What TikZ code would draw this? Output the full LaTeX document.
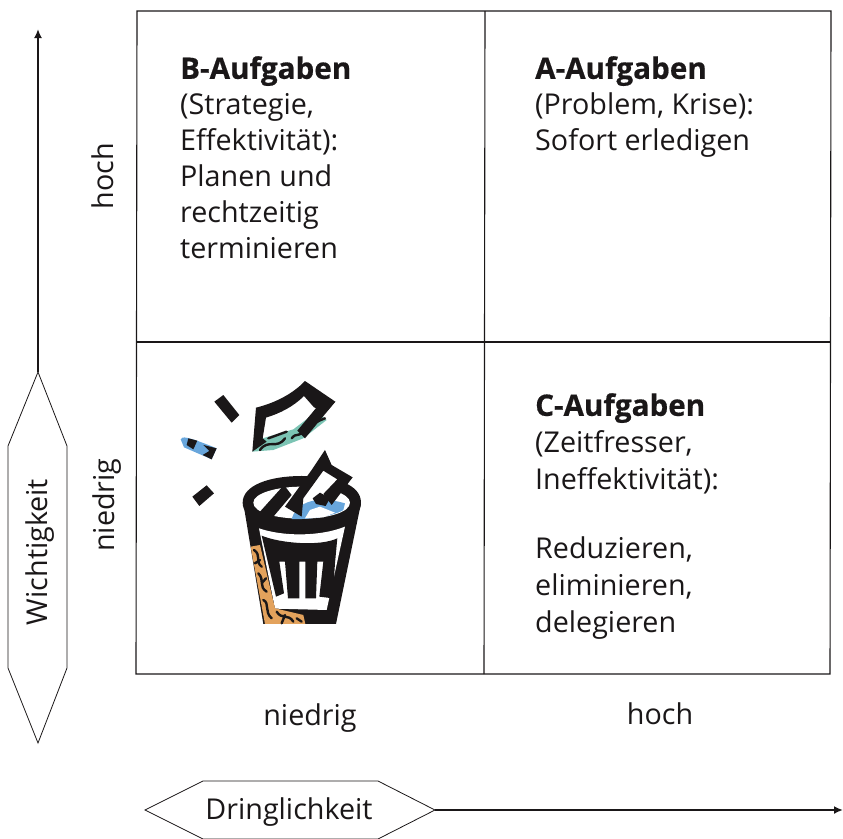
\documentclass[tikz,border=0pt]{standalone}
\usepackage{fontspec}
\setmainfont{Open Sans}
\newfontfamily\headfont{Open Sans}[BoldFeatures={FakeBold=0.5}]
\newcommand{\headtxt}[1]{{\headfont\bfseries\fontsize{29.6}{36}\selectfont #1}}
\definecolor{ink}{HTML}{1A1718}
\definecolor{teal}{HTML}{7CC4B4}
\definecolor{sky}{HTML}{68A6DC}
\definecolor{ochre}{HTML}{E3A25C}
\usetikzlibrary{arrows.meta}
\tikzset{
  px/.style={x=1pt,y=-1pt},
  cell/.style={draw=ink,line width=1.1pt},
  body/.style={font=\fontsize{28.7}{36}\selectfont,text=ink,align=left,anchor=north west,inner sep=0pt},
  bodywide/.style={font=\fontsize{28.7}{37}\selectfont,text=ink,align=left,anchor=north west,inner sep=0pt},
  lab/.style={font=\fontsize{28.7}{36}\selectfont,text=ink,inner sep=0pt},
  tag/.style={draw=ink,line width=.8pt,fill=white,line join=miter},
  axis/.style={draw=ink,line width=1.8pt,-{Latex[length=9pt,width=8pt]}},
  squig/.style={draw=ink,line width=2.4pt,line cap=round}
}
\begin{document}
\begin{tikzpicture}[px]
\useasboundingbox (0,0) rectangle (843,838);
% matrix
\coordinate (tl) at (137,11); \coordinate (tr) at (831,11);
\coordinate (bl) at (136,674); \coordinate (br) at (830,674);
\coordinate (tm) at (485,11); \coordinate (bm) at (484,674);
\coordinate (ml) at (136,342); \coordinate (mr) at (831,342);
\draw[cell] (tl) -- (tr) -- (br) -- (bl) -- cycle;
\draw[cell] (tm) -- (bm);
\draw[cell] (ml) -- (mr);
% cell texts
\node[body] (tb) at (180,56) {\headtxt{B-Aufgaben}\\(Strategie,\\Effektivität):\\Planen und\\rechtzeitig\\terminieren};
\node[body] (ta) at (535,56) {\headtxt{A-Aufgaben}\\(Problem, Krise):\\Sofort erledigen};
\node[bodywide] (tc) at (535,393) {\headtxt{C-Aufgaben}\\(Zeitfresser,\\Ineffektivität):\\[32pt]Reduzieren,\\eliminieren,\\delegieren};
% axis labels
\node[lab,rotate=90] (lh) at (103,176) {hoch};
\node[lab,rotate=90] (ln) at (107,505) {niedrig};
\node[lab] (xn) at (310,718) {niedrig};
\node[lab] (xh) at (660,714) {hoch};
% axis tags
\draw[tag] (38,372) -- (67,446) -- (67,668) -- (38,743) -- (8,668) -- (8,446) -- cycle;
\coordinate (vb) at (38,372); \coordinate (ve) at (38,29);
\draw[axis] (vb) -- (ve);
\node[lab,rotate=90] (vw) at (40,552) {Wichtigkeit};
\draw[tag] (145,810) -- (203,781) -- (378,781) -- (435,810) -- (378,839) -- (203,839) -- cycle;
\coordinate (hb) at (435,810); \coordinate (he) at (843,810);
\draw[axis] (hb) -- (he);
\node[lab] (hd) at (289,812) {Dringlichkeit};
% waste bin (drawn in 3x zoom coordinates)
\begin{scope}[shift={(160,370)},x=.3333pt,y=-.3333pt]
 % scraps
 \fill[ink] (163,95) -- (190,75) -- (238,135) -- (215,158) -- cycle;
 \fill[ink] (97,380) -- (140,346) -- (162,370) -- (118,408) -- cycle;
 \fill[sky] (62,208) .. controls (65,198) and (80,198) .. (170,235) -- (155,268) -- (72,232) -- cycle;
 \fill[ink] (85,205) -- (112,212) -- (100,238) -- (80,225) -- cycle;
 \fill[ink] (130,225) -- (170,235) -- (155,268) -- (128,255) -- (148,243) -- cycle;
 % big scrap
 \fill[teal] (277,245) -- (308,205) -- (400,178) -- (470,125) -- (500,150) -- (430,205) -- (340,240) -- cycle;
 \fill[ink] (277,245) -- (288,113) .. controls (340,100) and (395,75) .. (435,33) -- (526,95) -- (500,125) -- (462,112) -- (432,78) .. controls (400,110) and (360,130) .. (318,143) -- (308,205) -- (320,215) -- cycle;
 \fill[ink] (470,112) -- (526,95) -- (435,205) -- (412,182) -- cycle;
 \draw[squig] (300,240) .. controls (325,205) and (350,240) .. (375,205) (325,205) -- (380,185) (395,205) .. controls (410,185) and (420,205) .. (430,180) (450,150) .. controls (470,165) and (475,150) .. (495,145);
 % bin body
 \fill[ink] (250,400) -- (310,762) -- (528,762) -- (603,400) -- cycle;
 \fill[white] (297,475) .. controls (370,500) and (480,500) .. (555,470) -- (500,720) -- (345,716) -- cycle;
 % ribs
 \fill[ink] (305,497) .. controls (360,520) and (480,530) .. (532,505) -- (525,580) -- (518,685) -- (478,680) -- (490,575) -- (472,575) -- (468,685) -- (436,685) -- (436,575) -- (418,575) -- (418,685) -- (384,685) -- (375,575) -- (358,575) -- (372,670) -- (348,680) -- cycle;
 % orange wall
 \fill[ochre] (272,530) -- (300,525) -- (345,715) -- (430,735) -- (436,762) -- (315,762) -- cycle;
 \draw[squig] (282,540) .. controls (305,555) and (285,575) .. (305,590) (300,570) -- (285,580) (295,610) .. controls (315,630) and (295,650) .. (320,665) (318,625) -- (305,640) (310,690) .. controls (330,700) and (312,725) .. (335,745) (350,725) .. controls (365,750) and (385,730) .. (400,755) (375,735) -- (365,760) (410,745) -- (425,755);
 % rim
 \fill[ink] (248,398) .. controls (248,345) and (330,318) .. (425,318) .. controls (530,318) and (603,345) .. (603,398) .. controls (603,450) and (530,478) .. (425,478) .. controls (330,478) and (248,450) .. (248,398) -- cycle;
 \fill[white] (280,398) .. controls (280,370) and (350,350) .. (425,350) .. controls (500,350) and (570,370) .. (570,398) .. controls (570,428) and (500,446) .. (425,446) .. controls (350,446) and (280,428) .. (280,398) -- cycle;
 \fill[sky] (395,447) .. controls (405,410) and (450,370) .. (555,400) -- (550,420) .. controls (520,440) and (430,450) .. (395,447) -- cycle;
 \fill[white] (435,445) -- (450,420) -- (480,410) -- (525,428) -- (490,442) -- cycle;
 \fill[ink] (300,425) -- (372,345) -- (395,375) -- (335,446) -- cycle;
 % paper sticking out
 \fill[white] (430,385) -- (490,300) -- (535,330) -- (495,375) -- cycle;
 \fill[ink] (375,410) -- (455,300) -- (495,240) -- (515,285) -- (578,322) -- (515,405) -- (490,372) -- (532,328) -- (490,302) -- (430,385) -- (425,440) -- cycle;
 \fill[ink] (458,385) -- (480,368) -- (510,385) -- (497,408) -- (468,402) -- cycle;
\end{scope}
\end{tikzpicture}
\end{document}
